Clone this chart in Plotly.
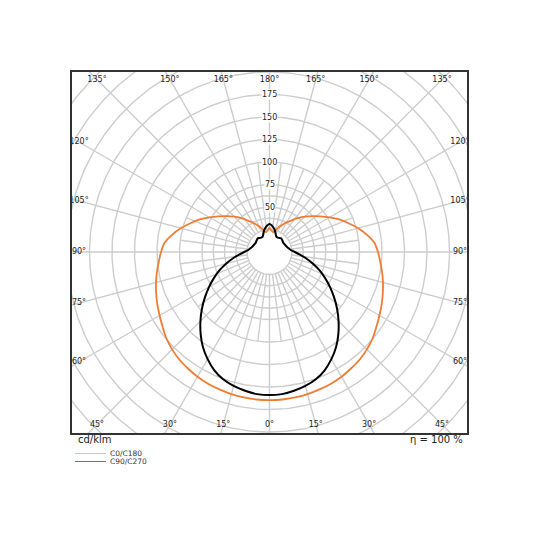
import numpy as np
import plotly.graph_objects as go

# luminous intensity distribution, cd/klm (symmetric halves)
gamma = [0, 5, 10, 15, 20, 25, 30, 35, 40, 45, 50, 55, 60, 65, 70, 75, 80, 85, 90,
         95, 100, 105, 110, 115, 120, 125, 130, 135, 140, 145, 150, 155, 160, 165, 170, 175, 180]
c0_c180 = [164.5, 164.5, 164, 163.5, 162.5, 161.5, 160, 158, 156, 153, 149.5, 145, 141, 137.5,
           134, 130.5, 127, 123.5, 120.5,
           117, 110, 102, 93.5, 85.5, 77, 69, 62, 55.5, 49, 43, 38, 33, 29, 24.5, 22.5, 24, 27]
c90_c270 = [159, 158.5, 156.5, 154, 150.5, 145, 137.5, 129, 119, 108.5, 98, 87.5, 77.5, 68,
            59, 50, 41.5, 34, 28,
            24, 22, 20.5, 19.5, 19, 18.5, 18.5, 19, 19.5, 20, 19, 18.5, 18.5, 20.5, 24, 27, 29.5, 31]

ring_vals = [25, 37.5, 50, 62.5, 75, 100, 125, 150, 175, 200, 225, 250, 275, 300]
ring_labels = [50, 75, 100, 125, 150, 175]
angle_labels = [0, 15, 30, 45, 60, 75, 90, 105, 120, 135, 150, 165, 180]

# frame geometry in page pixels (page is drawn 8 px in from the window corner)
OFF = 8
W = H = 540
BOX_L, BOX_R, BOX_T, BOX_B = 72, 467, 72, 433
CX, CY = 270, 252
PX_PER_UNIT = 0.9
LAB_HW, LAB_HH = 190.5, 172.5

GRID = "#cdcdcd"
ORANGE = "#f07c32"
FONT = "DejaVu Sans"


def to_xy(r, theta_deg):
    t = np.radians(np.asarray(theta_deg, dtype=float))
    r = np.asarray(r, dtype=float)
    return r * np.sin(t), -r * np.cos(t)


def both_sides(vals):
    g = np.array(gamma, dtype=float)
    v = np.array(vals, dtype=float)
    theta = np.concatenate([-g[::-1], g[1:]])
    r = np.concatenate([v[::-1], v[1:]])
    return to_xy(r, theta)


def pap_x(sx):
    return (sx - BOX_L) / (BOX_R - BOX_L)


def pap_y(sy):
    return 1 - (sy - BOX_T) / (BOX_B - BOX_T)


fig = go.Figure()

# rings
gx, gy = [], []
t = np.linspace(0, 360, 361)
for rv in ring_vals:
    x, y = to_xy(np.full_like(t, rv), t)
    gx += list(x) + [None]
    gy += list(y) + [None]
# main spokes every 15 deg, minor ones every 7.5 deg near the pole
for a in np.arange(0, 360, 15):
    x, y = to_xy([25, 320], [a, a])
    gx += list(x) + [None]
    gy += list(y) + [None]
for a in np.arange(7.5, 360, 15):
    x, y = to_xy([25, 100], [a, a])
    gx += list(x) + [None]
    gy += list(y) + [None]
fig.add_trace(go.Scatter(x=gx, y=gy, mode="lines", line=dict(color=GRID, width=1.4),
                         hoverinfo="skip"))

x0, y0 = both_sides(c0_c180)
fig.add_trace(go.Scatter(x=x0, y=y0, mode="lines", name="C0/C180",
                         line=dict(color=ORANGE, width=1.8, shape="spline", smoothing=0.8)))
x90, y90 = both_sides(c90_c270)
fig.add_trace(go.Scatter(x=x90, y=y90, mode="lines", name="C90/C270",
                         line=dict(color="black", width=2, shape="spline", smoothing=0.8)))

# angle labels along the inside of the frame
lab_r, lab_t, lab_s = [], [], []
for a in angle_labels:
    for s in ([a] if a in (0, 180) else [a, -a]):
        rad = np.radians(s)
        dx, dy = abs(np.sin(rad)), abs(np.cos(rad))
        rp = min(LAB_HW / dx if dx > 1e-9 else 1e9, LAB_HH / dy if dy > 1e-9 else 1e9)
        lab_r.append(rp / PX_PER_UNIT)
        lab_t.append(s)
        lab_s.append(f"{a}°")
lx, ly = to_xy(lab_r, lab_t)
fig.add_trace(go.Scatter(x=lx, y=ly, mode="text", text=lab_s, cliponaxis=True,
                         textfont=dict(family=FONT, size=8, color="#222"), hoverinfo="skip"))

# radial scale labels up the 180 deg spoke
for v in ring_labels:
    fig.add_annotation(x=0, y=v, text=str(v), showarrow=False, bgcolor="white", borderpad=0,
                       font=dict(family=FONT, size=8, color="#222"))

half_w = (BOX_R - BOX_L) / 2 / PX_PER_UNIT
top_u = (CY - BOX_T) / PX_PER_UNIT
bot_u = (BOX_B - CY) / PX_PER_UNIT
fig.update_layout(
    width=W, height=H,
    margin=dict(l=BOX_L - OFF, r=W - (BOX_R - OFF), t=BOX_T - OFF, b=H - (BOX_B - OFF)),
    paper_bgcolor="white", plot_bgcolor="white",
    showlegend=False,
    xaxis=dict(range=[-half_w, half_w], showgrid=False, zeroline=False, showticklabels=False,
               ticks="", showline=True, mirror=True, linecolor="#333333", linewidth=1.8),
    yaxis=dict(range=[-bot_u, top_u], showgrid=False, zeroline=False, showticklabels=False,
               ticks="", showline=True, mirror=True, linecolor="#333333", linewidth=1.8),
)

fig.add_annotation(x=pap_x(76), y=pap_y(439), xref="paper", yref="paper", text="cd/klm",
                   showarrow=False, xanchor="left", yanchor="middle",
                   font=dict(family=FONT, size=10, color="#222"))
fig.add_annotation(x=pap_x(465), y=pap_y(439), xref="paper", yref="paper", text="η = 100 %",
                   showarrow=False, xanchor="right", yanchor="middle",
                   font=dict(family=FONT, size=10, color="#222"))

# hand-made legend below the frame
legend = [("C0/C180", "#f5b98f", 453.5), ("C90/C270", "#6b7080", 461.5)]
for name, col, yy in legend:
    fig.add_shape(type="line", xref="paper", yref="paper",
                  x0=pap_x(75), x1=pap_x(106), y0=pap_y(yy), y1=pap_y(yy),
                  line=dict(color=col, width=1))
    fig.add_annotation(x=pap_x(108), y=pap_y(yy), xref="paper", yref="paper", text=name,
                       showarrow=False, xanchor="left", yanchor="middle",
                       font=dict(family=FONT, size=7.5, color="#333"))

fig.write_html("out.html")
